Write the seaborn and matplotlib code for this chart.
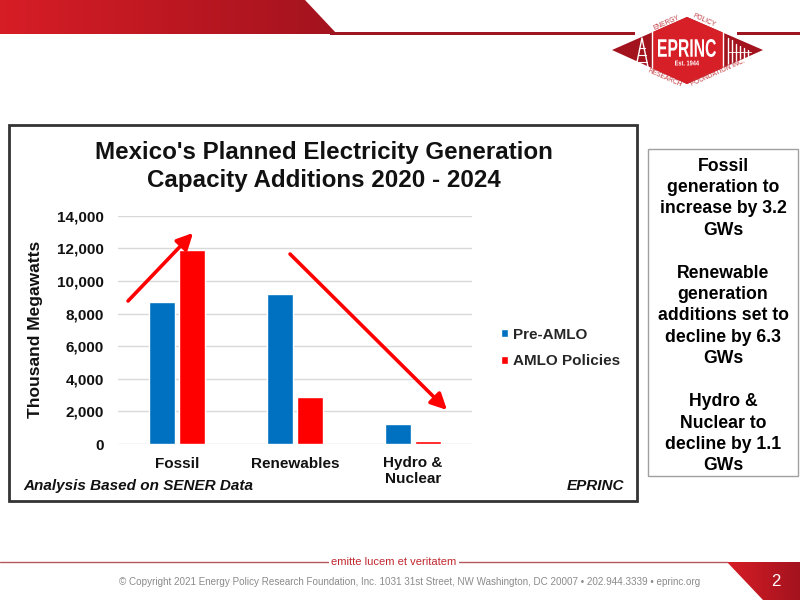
import numpy as np
import pandas as pd
import matplotlib
matplotlib.use("Agg")
import matplotlib.pyplot as plt
from matplotlib.patches import Polygon, Rectangle, PathPatch
from matplotlib.ticker import FuncFormatter
from matplotlib.textpath import TextPath
from matplotlib.font_manager import FontProperties
from matplotlib.transforms import Affine2D
import seaborn as sns

# ---------------- data ----------------
categories = ["Fossil", "Renewables", "Hydro &\nNuclear"]
series_names = ["Pre-AMLO", "AMLO Policies"]
pre_amlo = [8700, 9200, 1200]
amlo_policies = [11900, 2870, 160]
y_ticks = [0, 2000, 4000, 6000, 8000, 10000, 12000, 14000]

title = "Mexico's Planned Electricity Generation\nCapacity Additions 2020 - 2024"
y_label = "Thousand Megawatts"
source_note = "Analysis Based on SENER Data"
brand = "EPRINC"
side_text = ("Fossil\ngeneration to\nincrease by 3.2\nGWs\n\n"
             "Renewable\ngeneration\nadditions set to\ndecline by 6.3\nGWs\n\n"
             "Hydro &\nNuclear to\ndecline by 1.1\nGWs")
motto = "emitte lucem et veritatem"
footer = ("\u00a9 Copyright 2021 Energy Policy Research Foundation, Inc. 1031 31st Street, "
          "NW Washington, DC 20007 \u2022 202.944.3339 \u2022 eprinc.org")
page_no = "2"

BLUE = "#0070c0"
RED = "#ff0000"

df = pd.DataFrame({
    "category": categories * 2,
    "value": pre_amlo + amlo_policies,
    "series": [series_names[0]] * 3 + [series_names[1]] * 3,
})

sns.set_theme(style="white")
plt.rcParams["font.family"] = ["Liberation Sans", "DejaVu Sans"]
plt.rcParams["font.weight"] = "bold"

W, H = 800, 600
fig = plt.figure(figsize=(8, 6), dpi=100)
fig.patch.set_facecolor("white")

# background / decoration axes in pixel coordinates (y downward)
bg = fig.add_axes([0, 0, 1, 1], zorder=0)
bg.set_xlim(0, W)
bg.set_ylim(H, 0)
bg.axis("off")


def narrow_text(x, y, s, width, height, color, weight="bold", z=5):
    tp = TextPath((0, 0), s, size=25, prop=FontProperties(family="Liberation Sans", weight=weight))
    bb = tp.get_extents()
    tr = (Affine2D().translate(-(bb.x0 + bb.x1) / 2, -(bb.y0 + bb.y1) / 2)
          .scale(width / bb.width, -height / bb.height).translate(x, y))
    bg.add_patch(PathPatch(tr.transform_path(tp), facecolor=color, edgecolor="none", zorder=z))


# top banner with gradient
grad = np.linspace(0, 1, 256).reshape(1, -1)
cmap_banner = matplotlib.colors.LinearSegmentedColormap.from_list("b", ["#d71d26", "#a3131e"])
im = bg.imshow(grad, extent=[0, 337, 34, 0], cmap=cmap_banner, aspect="auto", zorder=1)
banner = Polygon([(0, 0), (305, 0), (337, 34), (0, 34)], closed=True, transform=bg.transData,
                 facecolor="none", edgecolor="none")
bg.add_patch(banner)
im.set_clip_path(banner)
bg.add_patch(Rectangle((330, 32), 305, 3, facecolor="#9e1620", edgecolor="none", zorder=1))
bg.add_patch(Rectangle((737, 32), 63, 3, facecolor="#9e1620", edgecolor="none", zorder=1))

# logo
diamond = Polygon([(612, 50), (687, 17), (763, 50), (687, 84)], closed=True,
                  facecolor="#a3131e", edgecolor="none", zorder=2)
bg.add_patch(diamond)
center = Rectangle((652, 10), 71, 80, facecolor="#d71f28", edgecolor="none", zorder=3)
bg.add_patch(center)
center.set_clip_path(diamond)
for xv in (652, 723):
    bg.plot([xv, xv], [28, 72], color="white", lw=1.0, zorder=4)
# derrick
bg.plot([636, 642, 648], [67, 38, 67], color="white", lw=1, zorder=4)
bg.plot([638, 646], [55, 55], color="white", lw=0.8, zorder=4)
bg.plot([637, 647], [62, 62], color="white", lw=0.8, zorder=4)
bg.plot([639, 645], [48, 48], color="white", lw=0.8, zorder=4)
# buildings
for xv, top in [(728, 38), (732, 40), (736, 44), (740, 46), (744, 48), (748, 50)]:
    bg.plot([xv, xv], [top, 66 - (xv - 728) * 0.5], color="white", lw=1, zorder=4)
bg.plot([728, 751], [52, 52], color="white", lw=0.6, zorder=4)
narrow_text(687, 48, "EPRINC", 58, 18, "white")
narrow_text(687, 63, "Est. 1944", 24, 5, "white")
small_red = dict(color="#c23a40", fontsize=4.8, fontweight="normal",
                 ha="center", va="center", zorder=5)
bg.text(667, 23, "ENERGY", rotation=24, **small_red)
bg.text(704, 21, "POLICY", rotation=-24, **small_red)
bg.text(665, 78, "RESEARCH", rotation=-24, **small_red)
bg.text(718, 73, "FOUNDATION INC.", rotation=24, **small_red)

# chart border box
bg.add_patch(Rectangle((9, 125), 628, 376, facecolor="white", edgecolor="#333333", lw=2, zorder=1))

# side text box
bg.add_patch(Rectangle((648, 149), 150, 327, facecolor="white", edgecolor="#a0a0a0", lw=1, zorder=1))
bg.text(723, 316, side_text, ha="center", va="center", fontsize=12.7, fontweight="bold",
        color="black", linespacing=1.34, zorder=2)

# chart title and notes
bg.text(324, 166.5, title, ha="center", va="center", fontsize=17.4, fontweight="bold",
        color="#111111", linespacing=1.3, zorder=2)
bg.text(23, 486, source_note, ha="left", va="center", fontsize=11, fontweight="bold",
        style="italic", color="#111111", zorder=2)
bg.text(624, 486, brand, ha="right", va="center", fontsize=11, fontweight="bold",
        style="italic", color="#111111", zorder=2)

# footer
bg.plot([0, 727], [562, 562], color="#b5585e", lw=1, zorder=1)
bg.text(394, 562, motto, ha="center", va="center", fontsize=8, fontweight="normal",
        color="#c0282f", zorder=2, bbox=dict(facecolor="white", edgecolor="none", pad=2))
bg.text(410, 582, footer, ha="center", va="center", fontsize=7.1, fontweight="normal",
        color="#8a8a8a", zorder=2)
im2 = bg.imshow(grad, extent=[727, 800, 600, 562], cmap=cmap_banner, aspect="auto", zorder=1)
corner = Polygon([(727, 562), (800, 562), (800, 600), (763, 600)], closed=True,
                 facecolor="none", edgecolor="none", transform=bg.transData)
bg.add_patch(corner)
im2.set_clip_path(corner)
bg.text(776, 581, page_no, ha="center", va="center", fontsize=12, fontweight="normal",
        color="white", zorder=3)
bg.set_xlim(0, W)
bg.set_ylim(H, 0)

# ---------------- chart ----------------
ax = fig.add_axes([118 / W, 1 - 444 / H, 354 / W, (444 - 215.7) / H], zorder=2)
ax.patch.set_alpha(0)
sns.barplot(data=df, x="category", y="value", hue="series", palette=[BLUE, RED],
            width=0.5, gap=0.12, ax=ax, legend=True, saturation=1)
ax.set_xlim(-0.5, 2.5)
ax.set_ylim(0, 14000)
ax.set_yticks(y_ticks)
ax.yaxis.set_major_formatter(FuncFormatter(lambda v, p: f"{int(v):,}"))
ax.grid(axis="y", color="#d9d9d9", lw=1)
ax.set_axisbelow(True)
for s in ax.spines.values():
    s.set_visible(False)
ax.tick_params(axis="both", length=0, labelsize=11, colors="#111111")
ax.tick_params(axis="y", pad=10)
ax.tick_params(axis="x", pad=9)
for lab in ax.get_xticklabels() + ax.get_yticklabels():
    lab.set_fontweight("bold")
    lab.set_linespacing(1.1)
ax.set_xlabel("")
ax.set_ylabel(y_label, fontsize=12.5, fontweight="bold", color="#111111")
ax.yaxis.set_label_coords(-0.212, 0.5)

handles, labels = ax.get_legend_handles_labels()
ax.legend(handles, labels, loc="center left", bbox_to_anchor=(487 / W, 1 - 348 / H),
          bbox_transform=fig.transFigure, frameon=False,
          handlelength=0.5, handleheight=0.5, handletextpad=0.3, labelspacing=0.85,
          prop=dict(weight="bold", size=11))

# arrows
arrow_kw = dict(arrowstyle="-|>", color=RED, lw=2.6, mutation_scale=24, shrinkA=0, shrinkB=0)
ax.annotate("", xy=(0.136, 12945), xytext=(-0.415, 8770), arrowprops=arrow_kw, annotation_clip=False)
ax.annotate("", xy=(2.288, 2086), xytext=(0.958, 11650), arrowprops=arrow_kw, annotation_clip=False)

fig.savefig("out.png", dpi=100, facecolor="white")
